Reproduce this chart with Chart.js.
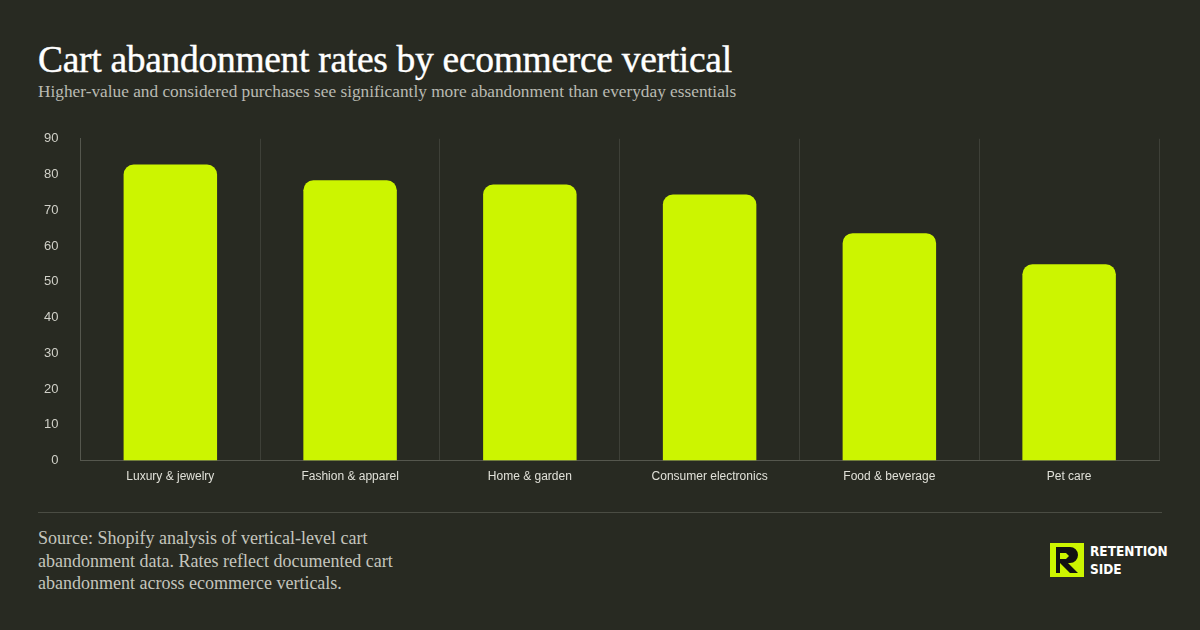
<!DOCTYPE html>
<html><head><meta charset="utf-8">
<script src="https://cdn.jsdelivr.net/npm/chart.js@4/dist/chart.umd.min.js"></script>
<style>
body{margin:0;width:1200px;height:630px;background:#282a22;position:relative;overflow:hidden;font-family:"Liberation Serif",serif}
#t{position:absolute;left:38px;top:38px;color:#fff;font-size:37.5px;letter-spacing:-0.3px;-webkit-text-stroke:0.4px #fff}
#s{position:absolute;left:38px;top:82px;color:#b9bab2;font-size:17.3px}
#c{position:absolute;left:30px;top:117px;width:1135px;height:376px}
#hr{position:absolute;left:38px;top:512px;width:1124px;height:1px;background:#4a4c43}
#f{position:absolute;left:38px;top:527px;color:#c4c5bd;font-size:18px;line-height:22.5px}
#logo{position:absolute;left:1050px;top:542px;display:flex;align-items:center}
#logo .n{color:#fff;font-family:"DejaVu Sans Condensed","Liberation Sans Narrow",sans-serif;font-weight:bold;font-size:13.5px;line-height:18px;margin-left:6px}
</style></head><body>
<div id="t">Cart abandonment rates by ecommerce vertical</div>
<div id="s">Higher-value and considered purchases see significantly more abandonment than everyday essentials</div>
<div id="c"><canvas id="cv"></canvas></div>
<div id="hr"></div>
<div id="f">Source: Shopify analysis of vertical-level cart<br>abandonment data. Rates reflect documented cart<br>abandonment across ecommerce verticals.</div>
<div id="logo"><svg width="34" height="34" viewBox="0 0 34 34"><rect width="34" height="34" fill="#ccf500"/><path d="M6 4h14a8 8 0 0 1 0 16h-2l10 10h-8l-10-10v10H6z" fill="#111"/><path d="M10 10h6l3 3-3 3h-6z" fill="#ccf500"/></svg><div class="n">RETENTION<br>SIDE</div></div>
<script>
const categories=["Luxury & jewelry","Fashion & apparel","Home & garden","Consumer electronics","Food & beverage","Pet care"];
const values=[82.8,78.4,77.2,74.4,63.6,54.9];
const yTicks=[0,10,20,30,40,50,60,70,80,90];
new Chart(document.getElementById('cv'),{type:'bar',
data:{labels:categories,datasets:[{data:values,backgroundColor:'#ccf500',borderRadius:{topLeft:10,topRight:10},borderSkipped:'bottom',barPercentage:0.52,categoryPercentage:1}]},
options:{responsive:true,maintainAspectRatio:false,animation:false,
layout:{padding:{left:0,right:6,top:6,bottom:0}},
plugins:{legend:{display:false},tooltip:{enabled:false}},
scales:{
x:{grid:{color:'#3e4038',offset:true,drawTicks:false},border:{color:'#55574e'},ticks:{color:'#e0e0d8',padding:9,font:{family:'Liberation Sans',size:12}}},
y:{min:0,max:90,afterBuildTicks:a=>{a.ticks=yTicks.map(v=>({value:v}))},grid:{display:false},border:{color:'#55574e'},ticks:{color:'#d0d0c8',padding:14,font:{family:'Liberation Sans',size:13}}}
}}});
</script>
</body></html>
